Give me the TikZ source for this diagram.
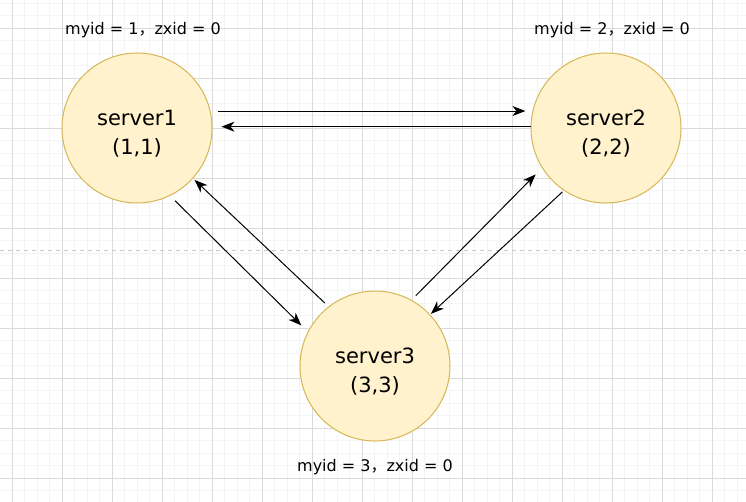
\documentclass[tikz,border=0pt]{standalone}
\usepackage{fontspec}
\setmainfont{DejaVu Sans}
\newfontfamily\cjk{Noto Sans CJK SC}
\usetikzlibrary{arrows.meta}
\definecolor{srvfill}{HTML}{FFF2CC}
\definecolor{srvline}{HTML}{D6B656}
\definecolor{gridmajor}{HTML}{DADADA}
\definecolor{gridminor}{HTML}{F4F4F4}
\definecolor{pagebreak}{HTML}{C8C8C8}
\tikzstyle{server}=[draw=srvline,fill=srvfill,circle,line width=0.75pt,minimum size=112.5pt,inner sep=0pt]
\tikzstyle{srvtext}=[align=center,yshift=-4.5pt,font=\fontsize{15.75}{21.75}\selectfont]
\tikzstyle{idlabel}=[font=\fontsize{12}{14}\selectfont,inner sep=0pt]
\tikzstyle{msg}=[->,line width=0.75pt]
\newcommand{\fwcomma}{{\cjk ，}}

\begin{document}
\begin{tikzpicture}[x=0.75pt,y=-0.75pt,>={Stealth[length=9.75pt,width=7.5pt,inset=3pt]}]
    \useasboundingbox (0,0) rectangle (746,502);
    \fill[white] (0,0) rectangle (746,502);
    % grid
    \foreach \gx in {-0.2,12.3,...,746} \draw[gridminor,line width=0.75pt] (\gx,0) -- (\gx,502);
    \foreach \gy in {3.3,15.8,...,502} \draw[gridminor,line width=0.75pt] (0,\gy) -- (746,\gy);
    \foreach \gx in {12.3,62.3,...,746} \draw[gridmajor,line width=0.75pt] (\gx,0) -- (\gx,502);
    \foreach \gy in {28.3,78.3,...,502} \draw[gridmajor,line width=0.75pt] (0,\gy) -- (746,\gy);
    \draw[pagebreak,line width=0.75pt,dash pattern=on 3pt off 3pt] (0,250.7) -- (746,250.7);

    \node[server,label={[srvtext]center:server1\\(1,1)}] (s1) at (137,128) {};
    \node[server,label={[srvtext]center:server2\\(2,2)}] (s2) at (606,128) {};
    \node[server,label={[srvtext]center:server3\\(3,3)}] (s3) at (375,366) {};
    \node[idlabel] (id1) at (143,30) {myid = 1\fwcomma zxid = 0};
    \node[idlabel] (id2) at (612,30) {myid = 2\fwcomma zxid = 0};
    \node[idlabel] (id3) at (375,467) {myid = 3\fwcomma zxid = 0};

    \draw[msg,shorten <=5.25pt,shorten >=5.25pt] (s1.13) -- (s2.167);
    \draw[msg,shorten >=6.75pt] (s2.179) -- (s1.1);
    \draw[msg,shorten <=5.25pt,shorten >=6.75pt] (s1.-64) -- (s3.153);
    \draw[msg,shorten <=3.75pt,shorten >=1.5pt] (s3.128) -- (s1.-42);
    \draw[msg,shorten <=4.5pt,shorten >=6.75pt] (s3.61) -- (s2.212);
    \draw[msg,shorten <=1.5pt,shorten >=0.75pt] (s2.236) -- (s3.43);
\end{tikzpicture}
\end{document}
